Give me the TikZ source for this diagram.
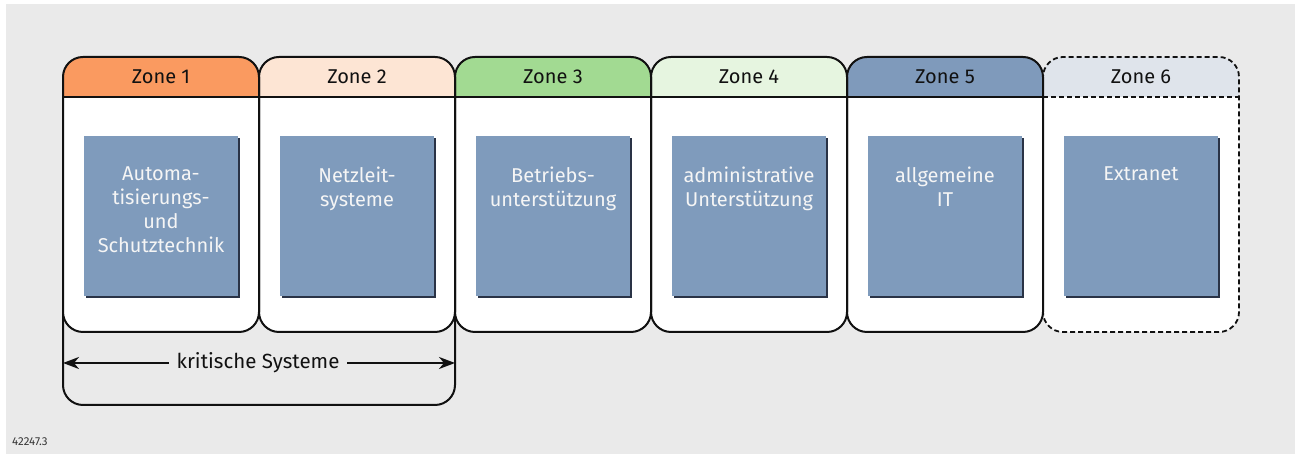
\documentclass[tikz,border=0pt]{standalone}
\usepackage{fontspec}
\setmainfont{Fira Sans}
\usetikzlibrary{arrows.meta}
\definecolor{bg}{HTML}{EAEAEA}
\definecolor{zcA}{HTML}{FA9A60}
\definecolor{zcB}{HTML}{FDE5D4}
\definecolor{zcC}{HTML}{A2DA92}
\definecolor{zcD}{HTML}{E6F5E0}
\definecolor{zcE}{HTML}{7F9ABB}
\definecolor{zcF}{HTML}{DFE4EB}
\definecolor{sysblue}{HTML}{7F9BBC}
\definecolor{sysshadow}{HTML}{2A3346}
\definecolor{ink}{HTML}{111111}
\tikzset{
  zonebg/.style={rectangle, rounded corners=20pt, fill=white, minimum width=196pt, minimum height=275pt, inner sep=0pt, outer sep=0pt},
  zoneline/.style={draw=ink, line width=2pt},
  zonedash/.style={draw=ink, line width=1.8pt, dash pattern=on 5pt off 3pt},
  hdr/.style={font=\fontsize{20}{24}\selectfont, text=ink, inner sep=0pt},
  sysbox/.style={rectangle, fill=sysblue, minimum width=154pt, minimum height=160pt, inner sep=0pt, outer sep=0pt},
  systext/.style={font=\fontsize{20}{24}\selectfont, text=white!96!black, align=center, anchor=north, inner sep=0pt},
  critline/.style={draw=ink, line width=2pt},
  arr/.style={draw=ink, line width=2pt, {Stealth[length=16pt,width=12pt,inset=5pt]}-{Stealth[length=16pt,width=12pt,inset=5pt]}},
}
\begin{document}
\begin{tikzpicture}[x=1pt,y=1pt]
\useasboundingbox (0,0) rectangle (1299,454);
\fill[bg] (6,0) rectangle (1295,450);
% bracket for critical systems
\node[rectangle, rounded corners=20pt, critline, minimum width=392pt, minimum height=251pt, inner sep=0pt, outer sep=0pt] (crit) at (259,174.5) {};
% zones
\foreach \i/\c/\t in {1/zcA/{Automa-\\tisierungs-\\und\\Schutztechnik},
                      2/zcB/{Netzleit-\\systeme},
                      3/zcC/{Betriebs-\\unterstützung},
                      4/zcD/{administrative\\Unterstützung},
                      5/zcE/{allgemeine\\IT},
                      6/zcF/{Extranet}} {
  \pgfmathsetmacro\xl{63+196*(\i-1)}
  \node[zonebg] (zone\i) at (\xl+98,259.5) {};
  \fill[\c] (\xl,357) -- (\xl,377) arc[start angle=180,end angle=90,radius=20pt] -- (\xl+176,397) arc[start angle=90,end angle=0,radius=20pt] -- (\xl+196,357) -- cycle;
  \node[hdr] (h\i) at (\xl+98,377) {Zone \i};
  \fill[sysshadow] (\xl+23,156) rectangle (\xl+177,316);
  \node[sysbox] (s\i) at (\xl+98,238) {};
  \node[systext] (t\i) at (\xl+98,287) {\t};
}
% borders
\draw[zonedash, rounded corners=20pt] (zone6.south west) rectangle (zone6.north east);
\draw[zonedash] (zone6.west |- 0,357) -- (zone6.east |- 0,357);
\foreach \i in {1,...,5} {
  \draw[zoneline, rounded corners=20pt] (zone\i.south west) rectangle (zone\i.north east);
  \draw[ink, line width=1.8pt] (zone\i.west |- 0,357) -- (zone\i.east |- 0,357);
}
% arrow
\coordinate (aL) at (63,91);
\coordinate (aR) at (455,91);
\draw[arr] (aL) -- node[fill=bg, inner xsep=8pt, inner ysep=2pt, font=\fontsize{20.5}{24}\selectfont, text=ink, xshift=-1pt] (critlabel) {kritische Systeme} (aR);
% figure number
\node[anchor=base west, inner sep=0pt, font=\fontsize{11.5}{13}\selectfont, text=ink!85] (fignum) at (12,8) {42247.3};
\end{tikzpicture}
\end{document}
